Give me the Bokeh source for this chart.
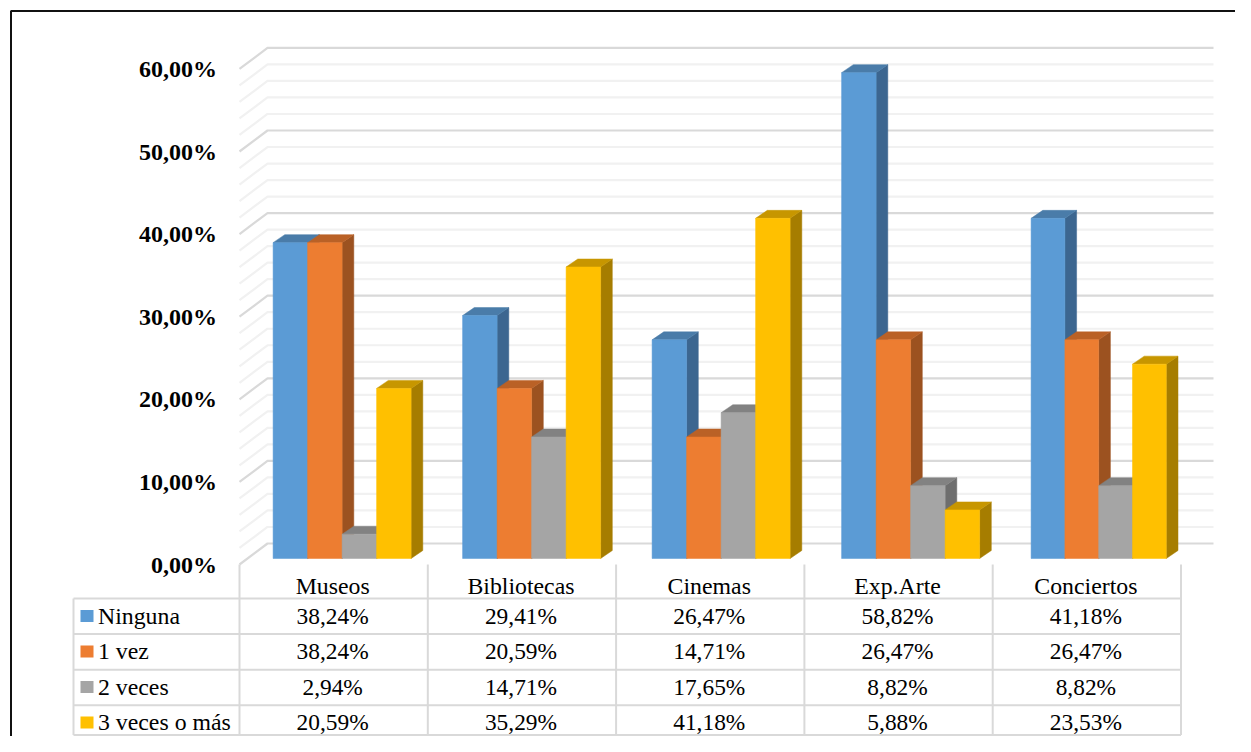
from bokeh.plotting import figure
from bokeh.models import Range1d
from bokeh.core.properties import value
from bokeh.embed import file_html
from bokeh.resources import INLINE

categories = ["Museos", "Bibliotecas", "Cinemas", "Exp.Arte", "Conciertos"]
series_names = ["Ninguna", "1 vez", "2 veces", "3 veces o más"]
ninguna = [38.24, 29.41, 26.47, 58.82, 41.18]
una_vez = [38.24, 20.59, 14.71, 26.47, 26.47]
dos_veces = [2.94, 14.71, 17.65, 8.82, 8.82]
tres_mas = [20.59, 35.29, 41.18, 5.88, 23.53]
series = [ninguna, una_vez, dos_veces, tres_mas]
major_ticks = [0, 10, 20, 30, 40, 50, 60]
minor_ticks = [2, 4, 6, 8, 12, 14, 16, 18, 22, 24, 26, 28, 32, 34, 36, 38, 42, 44, 46, 48, 52, 54, 56, 58]

front = ["#5B9BD5", "#ED7D31", "#A5A5A5", "#FFC000"]
top = ["#4A7CA9", "#BA6126", "#828282", "#C79600"]
side = ["#3C6690", "#9C5220", "#6E6E6E", "#A67D00"]

PX = 8.26           # pixels per percentage point
BASE = 558.0        # pixel row of the bars' 0 %
FONT = "Liberation Serif"
W, H = 1235, 736


def fmt(v):
    return f"{v:.2f}".replace(".", ",") + "%"


p = figure(width=W, height=H, output_backend="svg", toolbar_location=None,
           x_range=Range1d(0, W),
           y_range=Range1d((BASE - H) / PX, BASE / PX),
           min_border=0, min_border_left=0, min_border_right=0,
           min_border_top=0, min_border_bottom=0, outline_line_color=None)
p.extra_y_ranges = {"px": Range1d(H, 0)}
p.xaxis.visible = False
p.yaxis.visible = False
p.grid.visible = False
p.background_fill_color = "white"

# outer frame
p.line([10.5, 10.5, W], [H, 10.5, 10.5], y_range_name="px",
       line_color="#111111", line_width=2)

# wall gridlines
WALL_L, WALL_B, WALL_R = 239.0, 267.0, 1213.0
F_OFF, B_OFF = -6.0 / PX, 15.0 / PX
for ticks, color in ((minor_ticks, "#F1F1F1"), (major_ticks, "#D9D9D9")):
    p.multi_line([[WALL_L, WALL_B, WALL_R] for _ in ticks],
                 [[t + F_OFF, t + B_OFF, t + B_OFF] for t in ticks],
                 line_color=color, line_width=2.2)

# 3-D bars
X0, PITCH, DX, DY = 272.6, 189.5, 11.7, 8.0 / PX
BW = [34.5, 34.5, 34.5, 34.5, 33.8]
for i in range(len(categories)):
    for j, vals in enumerate(series):
        v = vals[i]
        x0 = X0 + PITCH * i + BW[i] * j
        x1 = x0 + BW[i]
        p.patch([x1, x1 + DX, x1 + DX, x1], [0, DY, v + DY, v],
                fill_color=side[j], line_color=side[j], line_width=0.5)
        p.patch([x0, x1, x1 + DX, x0 + DX], [v, v, v + DY, v + DY],
                fill_color=top[j], line_color=top[j], line_width=0.5)
        p.quad(left=x0, right=x1, bottom=0, top=v,
               fill_color=front[j], line_color=front[j], line_width=0.5)

# value-axis labels
p.text(x=[216.5] * len(major_ticks), y=[t + F_OFF for t in major_ticks],
       text=[fmt(t) for t in major_ticks],
       text_font=value(FONT), text_font_style="bold", text_font_size="24px",
       text_align="right", text_baseline="middle", text_color="#000000")

# data table
COLX = [239.0 + 188.3 * k for k in range(len(categories) + 1)]
ROWY = [598.0, 633.6, 669.2, 704.8, 734.5]
ROWC = [615.0, 650.5, 686.0, 721.5]
TABLE = "#D9D9D9"
p.multi_line([[73.0, COLX[-1]] for _ in ROWY], [[r, r] for r in ROWY], y_range_name="px",
             line_color=TABLE, line_width=2)
p.multi_line([[x, x] for x in COLX], [[564.0, ROWY[-1]] for _ in COLX], y_range_name="px",
             line_color=TABLE, line_width=2)
p.line([73.0, 73.0], [ROWY[0], ROWY[-1]], y_range_name="px", line_color=TABLE, line_width=2)

centers = [(COLX[k] + COLX[k + 1]) / 2 - 1.0 for k in range(len(categories))]
p.text(x=centers, y=[585.0] * len(categories), text=categories, y_range_name="px",
       text_font=value(FONT), text_font_size="23.8px", text_align="center",
       text_baseline="middle", text_color="#000000")
for r, (name, vals) in enumerate(zip(series_names, series)):
    cy = ROWC[r]
    p.text(x=centers, y=[cy] * len(vals), text=[fmt(v) for v in vals], y_range_name="px",
           text_font=value(FONT), text_font_size="23.4px", text_align="center",
           text_baseline="middle", text_color="#000000")
    p.quad(left=80.0, right=93.0, top=cy - 5.5, bottom=cy + 6.5, y_range_name="px",
           fill_color=front[r], line_color=None)
    p.text(x=[97.5], y=[cy], text=[name], y_range_name="px",
           text_font=value(FONT), text_font_size="23.8px", text_align="left",
           text_baseline="middle", text_color="#000000")

open("out.html", "w").write(file_html(p, INLINE))
